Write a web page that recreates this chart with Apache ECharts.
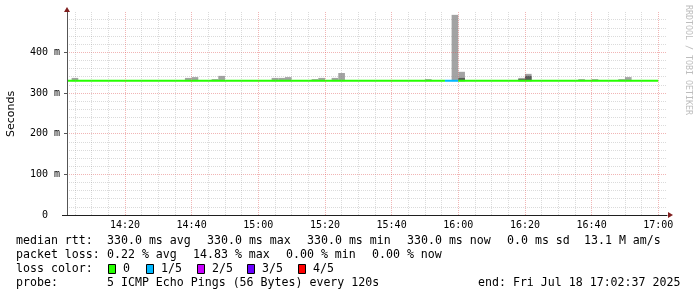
<!DOCTYPE html>
<html>
<head>
<meta charset="utf-8">
<script src="https://cdn.jsdelivr.net/npm/echarts@6/dist/echarts.min.js"></script>
<style>
  html, body { margin: 0; padding: 0; background: #fff; }
  #chart { width: 697px; height: 297px; }
</style>
</head>
<body>
<div id="chart"></div>
<script>
// 时间 "HH:MM[:SS]" -> 当天分钟数
function toMin(s) {
  const p = s.split(":").map(Number);
  return p[0] * 60 + p[1] + (p[2] || 0) / 60;
}

// 图表时间窗
const graphStart = "14:02:37";
const graphEnd = "17:02:37";

// smoke：每 2 分钟一步（起始时间、浅灰顶部、深灰顶部，单位 ms，0 = 无）
const smokeTimes = ["14:04", "14:38", "14:40", "14:46", "14:48", "15:04", "15:06", "15:08",
  "15:16", "15:18", "15:22", "15:24", "15:50", "15:58", "16:00", "16:18", "16:20",
  "16:36", "16:40", "16:48", "16:50"];
const smokeTop = [337, 337, 339, 334, 342, 337, 337, 339, 334, 337, 337, 349, 334, 492, 352,
  337, 347, 334, 334, 334, 339];
const smokeDark = [0, 0, 0, 0, 0, 0, 0, 0, 0, 0, 0, 0, 0, 0, 337, 334, 342, 0, 0, 0, 0];
const smokeBase = 329;

// median rtt 分段（按丢包等级着色）
const medianTimes = ["14:02:37", "15:56", "16:00", "17:00"];
const medianValues = [330, 330, 330];
const medianLoss = [0, 1, 0];

// 丢包颜色图例
const lossLabels = ["0", "1/5", "2/5", "3/5", "4/5"];
const lossColors = ["#26ff00", "#00b8ff", "#c800ff", "#6a00ff", "#ff0000"];

// 刻度
const xMajorTicks = ["14:20", "14:40", "15:00", "15:20", "15:40", "16:00", "16:20", "16:40", "17:00"];
const yTicks = [0, 100, 200, 300, 400, 500];

const mono = "DejaVu Sans Mono";
const gridGray = "rgba(143,143,143,0.32)";
const gridRed = "rgba(222,79,79,0.42)";

// 5 分钟次网格
const xMinorTicks = [];
for (let m = Math.ceil(toMin(graphStart) / 5) * 5; m < toMin(graphEnd); m += 5) {
  if (m % 20 !== 0) xMinorTicks.push(m);
}

const chart = echarts.init(document.getElementById("chart"), null, { renderer: "canvas" });

const legendRows = [
  { y: 241, items: [[16, "median rtt:"], [107, "330.0 ms avg"], [207, "330.0 ms max"],
    [307, "330.0 ms min"], [407, "330.0 ms now"], [507, "0.0 ms sd"], [584, "13.1 M am/s"]] },
  { y: 255, items: [[16, "packet loss:"], [107, "0.22 % avg"], [193, "14.83 % max"],
    [286, "0.00 % min"], [372, "0.00 % now"]] },
  { y: 269, items: [[16, "loss color:"]] },
  { y: 283, items: [[16, "probe:"], [107, "5 ICMP Echo Pings (56 Bytes) every 120s"],
    [478, "end: Fri Jul 18 17:02:37 2025"]] },
];

const graphics = [];
legendRows.forEach(row => {
  row.items.forEach(([x, t]) => {
    graphics.push({
      type: "text", x: x, y: row.y,
      style: { text: t, font: "11.6px '" + mono + "'", fill: "#000", textVerticalAlign: "middle" },
    });
  });
});
const boxX = [108, 146, 197, 247, 298];
lossLabels.forEach((lbl, i) => {
  graphics.push({
    type: "rect", shape: { x: boxX[i] + 0.5, y: 264.5, width: 7, height: 9 },
    style: { fill: lossColors[i], stroke: "#000", lineWidth: 1 },
  });
  graphics.push({
    type: "text", x: boxX[i] + 15, y: 269,
    style: { text: lbl, font: "11.6px '" + mono + "'", fill: "#000", textVerticalAlign: "middle" },
  });
});
// Y 轴名
graphics.push({
  type: "text", x: 11.5, y: 114, rotation: Math.PI / 2,
  style: { text: "Seconds", font: "11px 'DejaVu Sans'", fill: "#000", textAlign: "center", textVerticalAlign: "middle" },
});
// 水印
graphics.push({
  type: "text", x: 688, y: 60, rotation: -Math.PI / 2,
  style: { text: "RRDTOOL / TOBI OETIKER", font: "8.3px '" + mono + "'", fill: "#bdbdbd", textAlign: "center", textVerticalAlign: "middle" },
});
// 轴线延伸与箭头
graphics.push({
  type: "line", z: 10, shape: { x1: 62, y1: 215.5, x2: 67, y2: 215.5 }, style: { stroke: "#1f1f1f", lineWidth: 1 },
});
graphics.push({
  type: "polygon", z: 10, shape: { points: [[67, 7], [64, 12], [70, 12]] }, style: { fill: "#801f1f" },
});
graphics.push({
  type: "polygon", z: 10, shape: { points: [[673, 215], [668, 212], [668, 218]] }, style: { fill: "#801f1f" },
});

const option = {
  animation: false,
  backgroundColor: "#fff",
  grid: { left: 67, right: 30, top: 11.6, bottom: 82, containLabel: false },
  xAxis: {
    type: "value",
    min: toMin(graphStart),
    max: toMin(graphEnd),
    splitNumber: 9,
    z: 4,
    axisLine: { show: true, lineStyle: { color: "#1f1f1f", width: 1 } },
    axisTick: { show: false },
    splitLine: { show: false },
    axisLabel: {
      showMinLabel: false, showMaxLabel: false, margin: 5,
      fontFamily: mono, fontSize: 10, color: "#000",
      formatter: v => Math.floor(v / 60) + ":" + String(Math.round(v % 60)).padStart(2, "0"),
    },
  },
  yAxis: {
    type: "value",
    min: 0, max: 500, interval: 100,
    z: 4,
    axisLine: { show: true, lineStyle: { color: "#555", width: 1 } },
    axisTick: { show: true, length: 3, lineStyle: { color: "#555" } },
    axisLabel: {
      showMaxLabel: false, margin: 7,
      fontFamily: mono, fontSize: 10, color: "#000",
      formatter: v => (v === 0 ? "0\u00a0\u00a0" : v + " m"),
    },
    splitLine: {
      show: true,
      lineStyle: { color: yTicks.map(v => (v === 0 || v === 500 ? "rgba(0,0,0,0)" : gridRed)), type: [1, 1], width: 1 },
    },
    minorTick: { show: false, splitNumber: 5 },
    minorSplitLine: { show: true, lineStyle: { color: gridGray, type: [1, 1], width: 1 } },
  },
  graphic: graphics,
  series: [
    {
      name: "smoke",
      type: "custom",
      z: 2,
      silent: true,
      encode: { x: [0, 1], y: [2, 3] },
      data: smokeTimes.map((t, i) => [toMin(t), toMin(t) + 2, smokeTop[i], smokeDark[i]]),
      renderItem: (params, api) => {
        const x0 = api.value(0), x1 = api.value(1);
        const base = api.coord([x0, smokeBase]);
        const top = api.coord([x1, api.value(2)]);
        const children = [{
          type: "rect",
          shape: { x: base[0], y: top[1], width: top[0] - base[0], height: base[1] - top[1] },
          style: { fill: "#a3a3a3" },
        }];
        const dark = api.value(3);
        if (dark > smokeBase) {
          const dTop = api.coord([x1, dark]);
          children.push({
            type: "rect",
            shape: { x: base[0], y: dTop[1], width: dTop[0] - base[0], height: base[1] - dTop[1] },
            style: { fill: "#5a5a5a" },
          });
        }
        return { type: "group", children };
      },
    },
    {
      name: "median",
      type: "custom",
      z: 3,
      silent: true,
      encode: { x: [0, 1], y: 2 },
      data: medianValues.map((v, i) => [toMin(medianTimes[i]), toMin(medianTimes[i + 1]), v, medianLoss[i]]),
      renderItem: (params, api) => {
        const p0 = api.coord([api.value(0), api.value(2)]);
        const p1 = api.coord([api.value(1), api.value(2)]);
        return {
          type: "line",
          shape: { x1: p0[0], y1: p0[1], x2: p1[0], y2: p1[1] },
          style: { stroke: lossColors[api.value(3)], lineWidth: 2 },
        };
      },
    },
    {
      name: "xgrid",
      type: "line",
      z: 4,
      data: [],
      markLine: {
        silent: true,
        symbol: "none",
        label: { show: false },
        animation: false,
        data: xMinorTicks.map(m => ({ xAxis: m, lineStyle: { color: gridGray, type: [1, 1], width: 1 } }))
          .concat(xMajorTicks.map(t => ({ xAxis: toMin(t), lineStyle: { color: gridRed, type: [1, 1], width: 1 } }))),
      },
    },
  ],
};

chart.setOption(option);
</script>
</body>
</html>
